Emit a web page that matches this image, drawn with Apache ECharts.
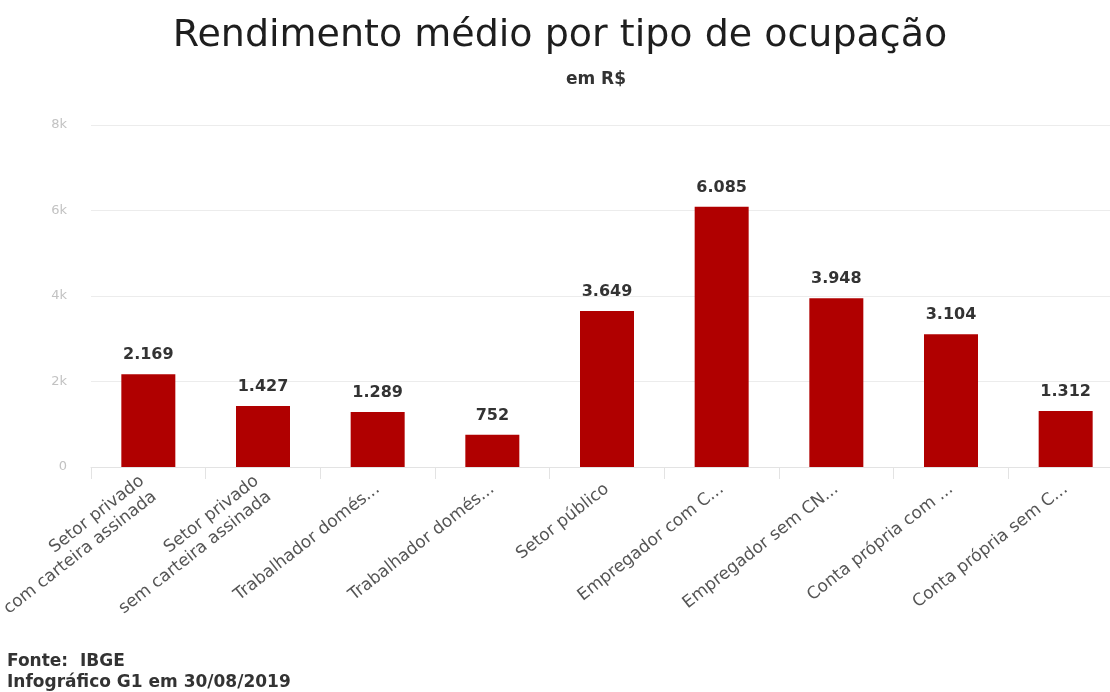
<!DOCTYPE html>
<html>
<head>
<meta charset="utf-8">
<script src="https://cdn.jsdelivr.net/npm/echarts@6/dist/echarts.min.js"></script>
<style>
html,body{margin:0;padding:0;background:#fff;}
#chart{width:1110px;height:692px;}
</style>
</head>
<body>
<div id="chart"></div>
<script>
var categories = [
  "Setor privado\ncom carteira assinada",
  "Setor privado\nsem carteira assinada",
  "Trabalhador domés...",
  "Trabalhador domés...",
  "Setor público",
  "Empregador com C...",
  "Empregador sem CN...",
  "Conta própria com ...",
  "Conta própria sem C..."
];
var values = [2169, 1427, 1289, 752, 3649, 6085, 3948, 3104, 1312];
var yTicks = [0, 2000, 4000, 6000, 8000];

function fmtBR(v) {
  return String(v).replace(/\B(?=(\d{3})+(?!\d))/g, ".");
}

var FONT = 'DejaVu Sans, Verdana, sans-serif';
var chart = echarts.init(document.getElementById('chart'));
chart.setOption({
  backgroundColor: '#ffffff',
  animation: false,
  title: [
    {
      text: 'Rendimento médio por tipo de ocupação',
      left: 555,
      textAlign: 'center',
      top: 12,
      textStyle: { fontFamily: FONT, fontSize: 38, fontWeight: 'normal', color: '#1e1e1e' }
    },
    {
      text: 'em R$',
      left: 591,
      textAlign: 'center',
      top: 66,
      textStyle: { fontFamily: FONT, fontSize: 17, fontWeight: 'bold', color: '#333' }
    },
    {
      text: 'Fonte:  IBGE\nInfográfico G1 em 30/08/2019',
      left: 7,
      top: 651,
      padding: 0,
      textStyle: { fontFamily: FONT, fontSize: 17, fontWeight: 'bold', color: '#333', lineHeight: 21 }
    }
  ],
  grid: { left: 91, width: 1032, top: 125, bottom: 225, containLabel: false, outerBoundsMode: 'none' },
  xAxis: {
    type: 'category',
    data: categories,
    axisLine: { show: true, lineStyle: { color: '#e3e3e3' } },
    axisTick: { show: true, length: 12, lineStyle: { color: '#e3e3e3' } },
    axisLabel: {
      interval: 0,
      rotate: 38,
      margin: 20,
      fontFamily: FONT,
      fontSize: 17,
      color: '#555',
      lineHeight: 20
    }
  },
  yAxis: {
    type: 'value',
    min: yTicks[0],
    max: yTicks[yTicks.length - 1],
    interval: yTicks[1] - yTicks[0],
    axisLine: { show: false },
    axisTick: { show: false },
    splitLine: { lineStyle: { color: '#ececec' } },
    axisLabel: {
      margin: 24,
      fontFamily: FONT,
      fontSize: 13,
      color: '#c2c2c2',
      formatter: function (v) { return v === 0 ? '0' : (v / 1000) + 'k'; }
    }
  },
  series: [{
    type: 'bar',
    data: values,
    barWidth: 54,
    itemStyle: { color: '#b00000' },
    label: {
      show: true,
      position: 'top',
      distance: 11,
      fontFamily: FONT,
      fontSize: 16,
      fontWeight: 'bold',
      color: '#333',
      formatter: function (p) { return fmtBR(p.value); }
    }
  }]
});
</script>
</body>
</html>
